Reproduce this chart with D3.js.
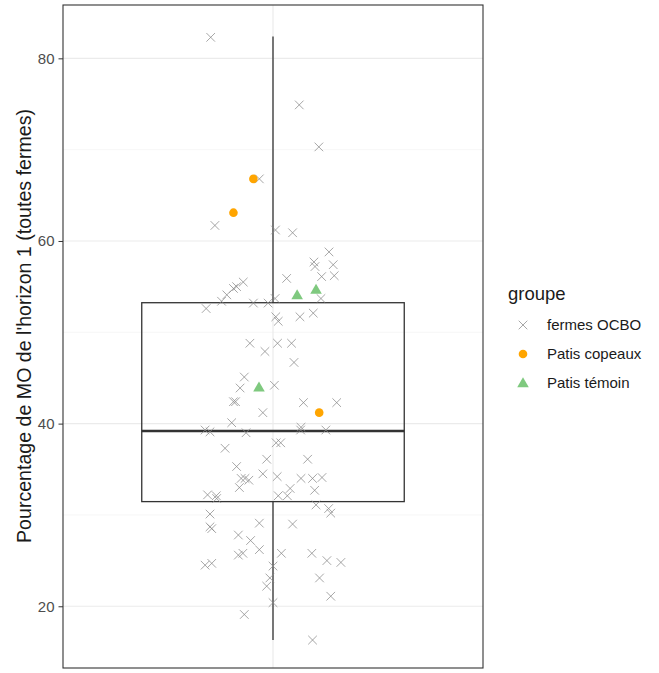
<!DOCTYPE html>
<html><head><meta charset="utf-8">
<script src="https://cdn.jsdelivr.net/npm/d3@7"></script>
<style>body{margin:0;background:#fff}svg{display:block;font-family:"Liberation Sans",Arial,sans-serif}</style>
</head><body><svg id="c" width="659" height="673"></svg>
<script>
// groups
const groups = ["fermes OCBO", "Patis copeaux", "Patis témoin"];
const yTicks = [20, 40, 60, 80];
const yMinor = [30, 50, 70];
const yLimits = [13.24, 85.84];
const yTitle = "Pourcentage de MO de l'horizon 1 (toutes fermes)";
const legendTitle = "groupe";
// boxplot statistics: [lower whisker, Q1, median, Q3, upper whisker]
const boxStats = [16.3, 31.46, 39.2, 53.24, 82.4];
// jitter offsets (category units) and values
const ocboJitter = [-0.178,0.075,0.131,-0.039,-0.166,0.007,0.056,0.160,0.117,0.120,0.172,0.175,0.139,0.039,0.137,-0.085,-0.104,-0.113,-0.132,-0.147,-0.191,-0.056,-0.014,0.006,0.008,0.015,0.077,0.115,-0.066,-0.023,0.013,0.053,0.060,-0.082,-0.094,0.004,-0.113,-0.107,0.087,0.182,-0.029,-0.118,-0.194,-0.180,-0.077,0.080,0.079,0.151,-0.137,0.009,0.022,-0.018,0.099,-0.104,-0.029,0.012,-0.091,-0.080,-0.069,0.080,0.113,0.140,-0.096,0.049,0.119,0.015,0.041,-0.187,-0.162,-0.161,0.123,0.159,0.165,-0.180,-0.180,-0.175,-0.039,0.056,-0.099,-0.064,-0.039,-0.099,-0.086,0.024,0.111,0.154,0.194,-0.194,-0.175,0.000,-0.009,-0.018,0.133,0.165,0.000,-0.082,0.113];
const ocboValues = [82.3,74.9,70.3,66.8,61.7,61.2,60.9,58.8,57.7,57.2,57.4,56.2,56.1,55.9,53.7,55.5,55.0,54.8,54.1,53.4,52.6,53.2,53.2,53.7,51.7,51.2,51.7,52.1,48.8,47.9,48.8,48.8,46.7,45.1,43.9,44.2,42.4,42.4,42.3,42.3,41.2,40.1,39.3,39.1,39.0,39.6,39.3,39.3,37.3,37.9,37.9,36.1,36.1,35.3,34.5,34.2,34.0,34.0,33.8,34.0,34.0,34.1,33.0,32.9,32.7,32.1,32.1,32.2,32.1,31.8,31.1,30.7,30.2,30.1,28.7,28.5,29.1,29.0,27.8,27.2,26.2,25.6,25.8,25.8,25.8,25.0,24.8,24.5,24.7,24.4,23.1,22.2,23.1,21.1,20.4,19.1,16.3];
const copeauxJitter = [-0.056,-0.113,0.132];
const copeauxValues = [66.8,63.1,41.2];
const temoinJitter = [0.123,0.069,-0.040];
const temoinValues = [54.7,54.1,44.0];

const svg = d3.select("#c");
const L = 63, R = 483, T = 5, B = 668;
const y = d3.scaleLinear().domain(yLimits).range([B, T]);
const x = d3.scaleLinear().domain([0.4, 1.6]).range([L, R]);

// grid
const g = svg.append("g");
g.selectAll(".mn").data(yMinor).join("line").attr("x1",L).attr("x2",R)
  .attr("y1",d=>y(d)).attr("y2",d=>y(d)).attr("stroke","#f2f2f2").attr("stroke-width",0.7);
g.selectAll(".mj").data(yTicks).join("line").attr("x1",L).attr("x2",R)
  .attr("y1",d=>y(d)).attr("y2",d=>y(d)).attr("stroke","#ebebeb").attr("stroke-width",1.2);
g.append("line").attr("x1",x(1)).attr("x2",x(1)).attr("y1",T).attr("y2",B).attr("stroke","#ebebeb").attr("stroke-width",1.2);

// boxplot
const bw = 0.375;
const box = svg.append("g").attr("stroke","#333333").attr("fill","none");
box.append("line").attr("x1",x(1)).attr("x2",x(1)).attr("y1",y(boxStats[4])).attr("y2",y(boxStats[3])).attr("stroke-width",1.3);
box.append("line").attr("x1",x(1)).attr("x2",x(1)).attr("y1",y(boxStats[1])).attr("y2",y(boxStats[0])).attr("stroke-width",1.3);
box.append("rect").attr("x",x(1-bw)).attr("width",x(1+bw)-x(1-bw))
  .attr("y",y(boxStats[3])).attr("height",y(boxStats[1])-y(boxStats[3])).attr("stroke-width",1.3);
box.append("line").attr("x1",x(1-bw)).attr("x2",x(1+bw)).attr("y1",y(boxStats[2])).attr("y2",y(boxStats[2])).attr("stroke-width",2.6);

// points
const s = 4.3;
const xPath = `M${-s},${-s}L${s},${s}M${-s},${s}L${s},${-s}`;
const ocbo = ocboValues.map((v,i)=>({v, j:ocboJitter[i]}));
svg.append("g").selectAll("path").data(ocbo).join("path")
  .attr("transform",d=>`translate(${x(1+d.j)},${y(d.v)})`)
  .attr("d",xPath).attr("stroke","#888").attr("stroke-opacity",0.75).attr("stroke-width",1).attr("fill","none");
const cop = copeauxValues.map((v,i)=>({v, j:copeauxJitter[i]}));
svg.append("g").selectAll("circle").data(cop).join("circle")
  .attr("cx",d=>x(1+d.j)).attr("cy",d=>y(d.v)).attr("r",4.3).attr("fill","#FFA500");
const tem = temoinValues.map((v,i)=>({v, j:temoinJitter[i]}));
const tri = d3.symbol(d3.symbolTriangle, 58)();
svg.append("g").selectAll("path").data(tem).join("path")
  .attr("transform",d=>`translate(${x(1+d.j)},${y(d.v)+1})`).attr("d",tri).attr("fill","#7FC97F");

// panel border
svg.append("rect").attr("x",L).attr("y",T).attr("width",R-L).attr("height",B-T)
  .attr("fill","none").attr("stroke","#333333").attr("stroke-width",1.1);

// y axis
const ax = svg.append("g").attr("transform",`translate(${L},0)`)
  .call(d3.axisLeft(y).tickValues(yTicks).tickSize(4.5).tickPadding(4).tickFormat(d3.format("d")));
ax.select(".domain").remove();
ax.selectAll(".tick line").attr("stroke","#333333");
ax.selectAll(".tick text").attr("fill","#4d4d4d").style("font-size","15px").style("font-family","Liberation Sans, Arial, sans-serif");

svg.append("text").attr("transform",`translate(31,326) rotate(-90)`)
  .attr("text-anchor","middle").style("font-size","19.6px").attr("fill","#1a1a1a").text(yTitle);

// legend
const lg = svg.append("g");
lg.append("text").attr("x",508).attr("y",300).style("font-size","18.5px").attr("fill","#1a1a1a").text(legendTitle);
const ky = [325, 354, 383];
groups.forEach((gname,i)=>{
  lg.append("text").attr("x",547).attr("y",ky[i]).attr("dy","0.35em").style("font-size","15px").attr("fill","#1a1a1a").text(gname);
});
lg.append("path").attr("transform",`translate(523,${ky[0]})`).attr("d",xPath).attr("stroke","#888").attr("stroke-opacity",0.75).attr("fill","none");
lg.append("circle").attr("cx",523).attr("cy",ky[1]).attr("r",4.3).attr("fill","#FFA500");
lg.append("path").attr("transform",`translate(523,${ky[2]+1})`).attr("d",tri).attr("fill","#7FC97F");
</script></body></html>
